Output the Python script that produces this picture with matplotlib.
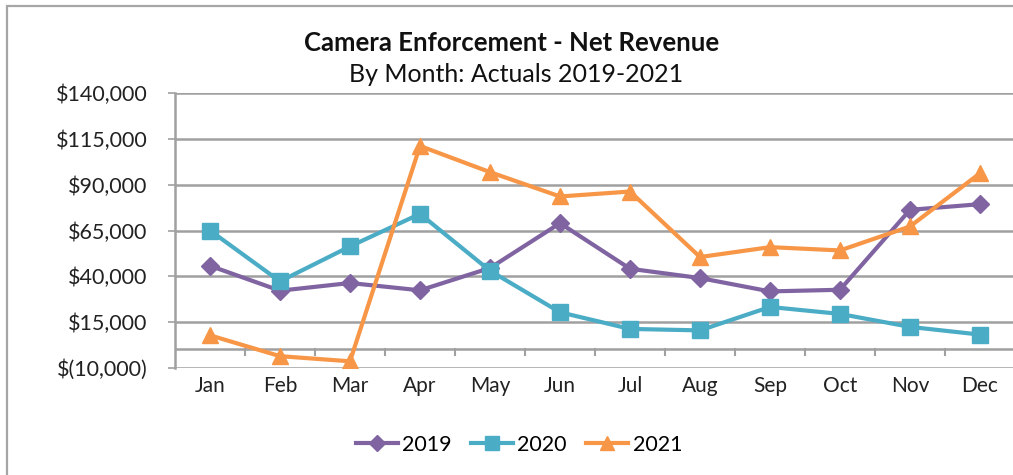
import matplotlib
matplotlib.use("Agg")
import matplotlib.pyplot as plt
from matplotlib.patches import Rectangle
from matplotlib.lines import Line2D

months = ["Jan", "Feb", "Mar", "Apr", "May", "Jun", "Jul", "Aug", "Sep", "Oct", "Nov", "Dec"]
rev_2019 = [45700, 32100, 36300, 32300, 44500, 69000, 44100, 39000, 31700, 32600, 76300, 79400]
rev_2020 = [65000, 37200, 56300, 74100, 43000, 20300, 11200, 10400, 23200, 19400, 12300, 8100]
rev_2021 = [7700, -3700, -6500, 111200, 96900, 83600, 86300, 50500, 55900, 54100, 67200, 96300]
ytick_values = [-10000, 15000, 40000, 65000, 90000, 115000, 140000]
ytick_labels = ["$(10,000)", "$15,000", "$40,000", "$65,000", "$90,000", "$115,000", "$140,000"]

plt.rcParams['font.family'] = ['Lato', 'DejaVu Sans']

W, H = 1013, 475
fig = plt.figure(figsize=(W / 100, H / 100), dpi=100)
fig.patch.set_facecolor("white")

# outer chart border (right/bottom cropped off)
fig.add_artist(Rectangle((7 / W, -0.05), 1.1, 1 - 6 / H + 0.05, transform=fig.transFigure,
                         fill=False, edgecolor="#a6a6a6", linewidth=1.6))

left, right, top, bottom = 175, 1015, 93.3, 367.7
ax = fig.add_axes([left / W, 1 - bottom / H, (right - left) / W, (bottom - top) / H])

x = list(range(len(months)))
grid_c = "#a0a0a0"
ax.set_ylim(-10000, 140000)
ax.set_xlim(-0.5, len(months) - 0.5)
for v in ytick_values:
    ax.axhline(v, color=grid_c, linewidth=1.8, zorder=1)
ax.axhline(0, color=grid_c, linewidth=1.8, zorder=1)

ax.set_yticks(ytick_values)
ax.set_yticklabels(ytick_labels, fontsize=15.5, color="#222222")
ax.tick_params(axis='y', length=5, width=1.2, color=grid_c, pad=15)
ax.set_xticks(x)
ax.set_xticklabels(months, fontsize=15, color="#222222")
ax.tick_params(axis='x', length=0, pad=6)

# category boundary ticks hanging from the zero line
for b in range(1, len(months)):
    ax.plot([b - 0.5, b - 0.5], [0, -3300], color=grid_c, linewidth=1.5, zorder=1, clip_on=False)

for s in ["top", "right", "bottom"]:
    ax.spines[s].set_visible(False)
ax.spines["left"].set_color(grid_c)
ax.spines["left"].set_linewidth(1.8)

c19, c20, c21 = "#8064A2", "#4BACC6", "#F79646"
ax.plot(x, rev_2019, color=c19, linewidth=3, marker="D", markersize=9, zorder=3, label="2019")
ax.plot(x, rev_2020, color=c20, linewidth=3, marker="s", markersize=11, zorder=3, label="2020")
ax.plot(x, rev_2021, color=c21, linewidth=3, marker="^", markersize=12, zorder=3, label="2021")

fig.text(512 / W, 1 - 43 / H, "Camera Enforcement - Net Revenue", ha="center", va="center",
         fontsize=18.5, fontweight="bold", color="#111111")
fig.text(516 / W, 1 - 75 / H, "By Month: Actuals 2019-2021", ha="center", va="center",
         fontsize=18, color="#111111")

handles = [Line2D([], [], color=c19, linewidth=3, marker="D", markersize=8),
           Line2D([], [], color=c20, linewidth=3, marker="s", markersize=10),
           Line2D([], [], color=c21, linewidth=3, marker="^", markersize=10)]
fig.legend(handles, ["2019", "2020", "2021"], loc="center", bbox_to_anchor=(519 / W, 1 - 445 / H),
           ncol=3, frameon=False, fontsize=15.5, handlelength=1.95, columnspacing=0.9,
           handletextpad=0.2)

fig.savefig("out.png", dpi=100, facecolor="white")
